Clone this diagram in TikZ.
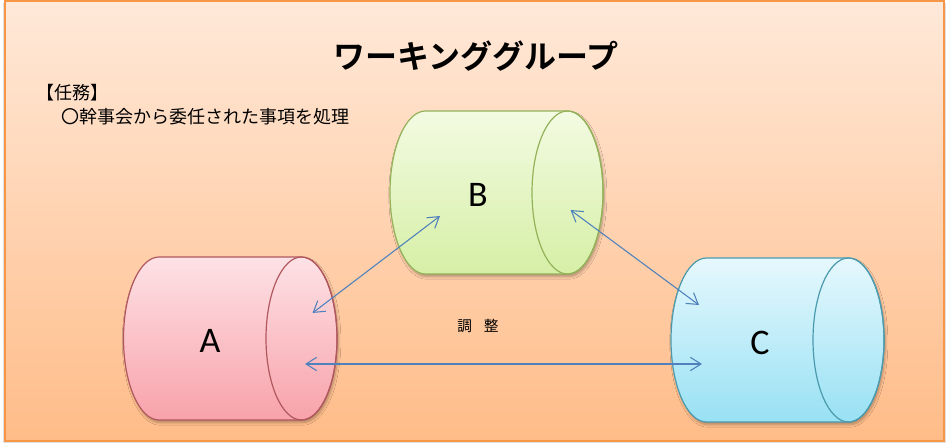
\documentclass[tikz,border=0pt]{standalone}
\usepackage{fontspec}
\setmainfont{Carlito}
\newfontfamily\jpfont{Noto Sans CJK JP}
\newfontfamily\jpbold{Noto Sans CJK JP Bold}
\usetikzlibrary{arrows.meta,shadows.blur}
\definecolor{bgtop}{HTML}{FFE9D9}
\definecolor{bgbot}{HTML}{FFBC88}
\definecolor{frame}{HTML}{F79646}
\definecolor{arr}{HTML}{4F81BD}
\definecolor{aTop}{HTML}{FDE2E6}
\definecolor{aBot}{HTML}{F8A2AA}
\definecolor{aLine}{HTML}{B0585E}
\definecolor{bTop}{HTML}{F3FBE2}
\definecolor{bBot}{HTML}{D6EFA6}
\definecolor{bLine}{HTML}{94B25A}
\definecolor{cTop}{HTML}{E6F8FD}
\definecolor{cBot}{HTML}{98E1F4}
\definecolor{cLine}{HTML}{4B9AAE}
\tikzset{
  link/.style={draw=arr, line width=0.8pt, {Straight Barb[length=8pt,width=10pt]}-{Straight Barb[length=8pt,width=10pt]}},
  biglabel/.style={font=\fontsize{27}{30}\selectfont, inner sep=0pt},
  tasktext/.style={font=\jpfont\fontsize{13.5}{16}\selectfont, anchor=west, inner sep=0pt},
  cylshadow/.style={blur shadow={shadow xshift=1pt, shadow yshift=-2pt, shadow blur steps=6, shadow opacity=30}}
}
% #1 left centre x, #2 right centre x, #3 centre y, #4 rx, #5 ry, #6 top, #7 bottom, #8 line
\newcommand{\mycyl}[8]{%
  \path[cylshadow, top color=#6, bottom color=#7, draw=#8, line width=0.9pt]
    (#1,#3-#5) -- (#2,#3-#5)
    arc[start angle=-90, end angle=90, x radius=#4, y radius=#5]
    -- (#1,#3+#5)
    arc[start angle=90, end angle=270, x radius=#4, y radius=#5] -- cycle;
  \draw[#8, line width=0.9pt] (#2,#3) ellipse[x radius=#4, y radius=#5];
}
\begin{document}
\begin{tikzpicture}[x=0.75pt,y=-0.75pt]
\useasboundingbox (0,0) rectangle (949,445);
\fill[white] (0,0) rectangle (949,445);
\fill[black!12] (3,3) rectangle (946,443);
\path[top color=bgtop, bottom color=bgbot, draw=frame, line width=1.8pt] (5,1) rectangle (944,441);

\node[font=\jpbold\fontsize{24}{28}\selectfont, inner sep=0pt] (title) at (476,56) {ワーキンググループ};
\node[tasktext] (task) at (36,93) {【任務】};
\node[tasktext] (duty) at (61,117) {〇幹事会から委任された事項を処理};

\mycyl{159}{301.5}{338.5}{35.5}{81.5}{aTop}{aBot}{aLine}
\mycyl{425.5}{567.5}{192.5}{35.5}{81.5}{bTop}{bBot}{bLine}
\mycyl{706.5}{848.5}{340}{35.5}{82}{cTop}{cBot}{cLine}

\node[biglabel] (a) at (210,341) {A};
\node[biglabel] (b) at (478,195) {B};
\node[biglabel] (c) at (760,343) {C};

\coordinate (ab) at (312.5,313);
\coordinate (ba) at (440,216);
\coordinate (bc) at (570.5,210);
\coordinate (cb) at (699,305);
\coordinate (ac) at (305,364);
\coordinate (ca) at (702,364);
\draw[link] (ab) -- (ba);
\draw[link] (bc) -- (cb);
\draw[link] (ac) -- (ca);

\node[font=\jpfont\fontsize{11}{13}\selectfont, inner sep=0pt] (coord) at (478,326) {調\hspace{0.8em}整};
\end{tikzpicture}
\end{document}
